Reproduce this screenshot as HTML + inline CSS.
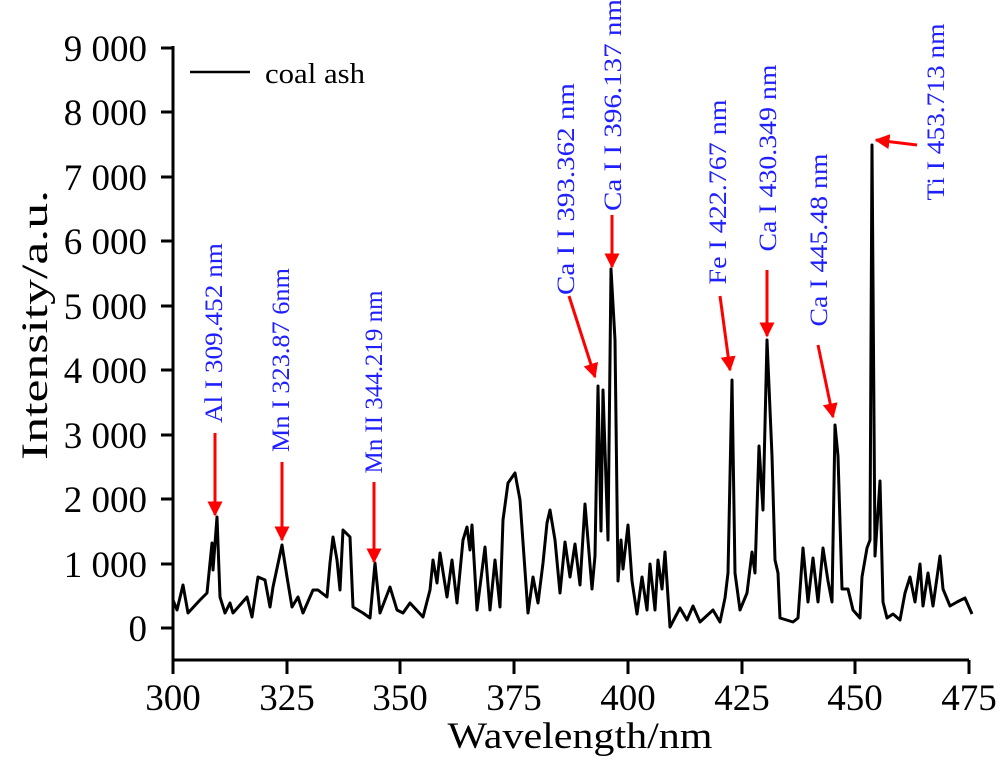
<!DOCTYPE html>
<html><head><meta charset="utf-8"><style>
html,body{margin:0;padding:0;background:#fff;}
svg{display:block;}
svg text{font-family:"Liberation Serif","Times New Roman",serif !important;}
</style></head><body>
<svg width="1000" height="763" viewBox="0 0 1000 763" xmlns="http://www.w3.org/2000/svg" font-family="Liberation Serif, serif">
<defs>
<marker id="ah" viewBox="0 0 10 10" refX="9" refY="5" markerWidth="5" markerHeight="5" orient="auto" markerUnits="strokeWidth">
<path d="M0,0 L10,5 L0,10 z" fill="#ff0000"/>
</marker>
</defs>
<g stroke="#000" stroke-width="3" fill="none">
<path d="M173,46 V660 H969"/>
<path d="M161,48 H173 M161,112 H173 M161,177 H173 M161,241 H173 M161,306 H173 M161,370 H173 M161,435 H173 M161,499 H173 M161,564 H173 M161,628 H173"/>
<path d="M173,660 V674 M287,660 V674 M400,660 V674 M514,660 V674 M628,660 V674 M742,660 V674 M855,660 V674 M969,660 V674"/>
</g>
<g font-size="37" text-anchor="end" fill="#000" font-family="Liberation Serif, serif">
<text x="147" y="61">9 000</text>
<text x="147" y="125">8 000</text>
<text x="147" y="190">7 000</text>
<text x="147" y="254">6 000</text>
<text x="147" y="319">5 000</text>
<text x="147" y="383">4 000</text>
<text x="147" y="448">3 000</text>
<text x="147" y="512">2 000</text>
<text x="147" y="577">1 000</text>
<text x="147" y="641">0</text>
</g>
<g font-size="37" text-anchor="middle" fill="#000" font-family="Liberation Serif, serif">
<text x="173" y="710">300</text>
<text x="287" y="710">325</text>
<text x="400" y="710">350</text>
<text x="514" y="710">375</text>
<text x="628" y="710">400</text>
<text x="742" y="710">425</text>
<text x="855" y="710">450</text>
<text x="969" y="710">475</text>
<text x="580" y="748" textLength="265" lengthAdjust="spacingAndGlyphs">Wavelength/nm</text>
<text x="0" y="0" transform="translate(47,325) rotate(-90)" textLength="270" lengthAdjust="spacingAndGlyphs">Intensity/a.u.</text>
</g>
<line x1="190" y1="72" x2="250" y2="72" stroke="#000" stroke-width="2.5"/>
<text x="265" y="83" font-size="28" fill="#000" font-family="Liberation Serif, serif" textLength="100" lengthAdjust="spacingAndGlyphs">coal ash</text>
<polyline fill="none" stroke="#000" stroke-width="3" stroke-linejoin="round" points="
173,600 177,610 183,585 188,613 200,600 207,593 212,543 213,570 217,517 220,597 225,613 230,603 233,613 247,597 252,617 258,577 265,580 270,607 273,587 282,545 287,577 292,607 298,597 303,613 313,590 318,590 327,597 330,563 333,537 337,560 340,590 343,530 350,537 353,607 363,613 370,618 375,563 380,613 390,587 397,610 403,613 410,603 423,617 430,590 433,560 437,583 440,553 447,597 452,560 457,603 463,540 467,527 470,550 472,525 477,610 485,547 490,610 495,560 500,607 503,520 508,483 515,473 520,500 528,613 533,577 538,603 543,563 547,523 550,510 555,540 560,593 565,542 570,577 575,544 580,585 585,504 592,589 595,556 598,386 601,531 603,390 608,540 611,269 615,340 618,581 621,540 623,569 628,525 632,581 637,614 642,577 647,610 650,564 655,610 658,560 662,589 665,552 670,627 680,608 687,620 693,606 700,622 713,610 720,622 725,598 728,573 732,380 735,573 740,610 747,593 752,552 755,573 759,446 763,510 767,340 772,456 775,560 778,573 780,618 793,622 798,618 803,548 808,602 813,558 818,602 823,548 828,581 832,602 835,425 838,456 842,589 848,589 853,610 860,618 862,577 867,548 870,540 872,145 875,556 880,481 883,602 887,618 893,614 900,620 905,593 910,577 915,602 920,564 923,606 928,573 933,606 940,556 943,589 950,606 957,602 965,598 972,614"/>
<g stroke="#ff0000" stroke-width="3" fill="none" marker-end="url(#ah)">
<line x1="215" y1="433" x2="215" y2="515"/>
<line x1="282" y1="462" x2="282" y2="540"/>
<line x1="374" y1="482" x2="374" y2="562"/>
<line x1="569" y1="296" x2="595" y2="377"/>
<line x1="612" y1="215" x2="612" y2="267"/>
<line x1="720" y1="296" x2="730" y2="370"/>
<line x1="767" y1="270" x2="767" y2="336"/>
<line x1="818" y1="345" x2="833" y2="417"/>
<line x1="917" y1="145" x2="876" y2="140"/>
</g>
<g font-size="25" fill="#2020ff" text-anchor="middle" font-family="Liberation Serif, serif">
<text transform="translate(222,333) rotate(-90)" textLength="180" lengthAdjust="spacingAndGlyphs">Al I  309.452 nm</text>
<text transform="translate(289,360) rotate(-90)" textLength="184" lengthAdjust="spacingAndGlyphs">Mn I 323.87 6nm</text>
<text transform="translate(382,382) rotate(-90)" textLength="183" lengthAdjust="spacingAndGlyphs">Mn II 344.219 nm</text>
<text transform="translate(574,189) rotate(-90)" textLength="212" lengthAdjust="spacingAndGlyphs">Ca I  I  393.362 nm</text>
<text transform="translate(621,105) rotate(-90)" textLength="212" lengthAdjust="spacingAndGlyphs">Ca I  I  396.137 nm</text>
<text transform="translate(726,192) rotate(-90)" textLength="185" lengthAdjust="spacingAndGlyphs">Fe I  422.767 nm</text>
<text transform="translate(776,158) rotate(-90)" textLength="187" lengthAdjust="spacingAndGlyphs">Ca I  430.349 nm</text>
<text transform="translate(827,240) rotate(-90)" textLength="173" lengthAdjust="spacingAndGlyphs">Ca I  445.48 nm</text>
<text transform="translate(944,112) rotate(-90)" textLength="177" lengthAdjust="spacingAndGlyphs">Ti I  453.713 nm</text>
</g>
</svg>
</body></html>
